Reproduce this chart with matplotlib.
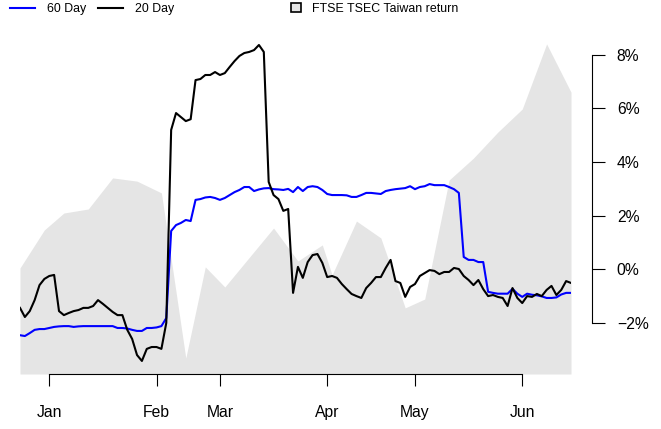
import matplotlib
matplotlib.use("Agg")
import matplotlib.pyplot as plt
from matplotlib.lines import Line2D
from matplotlib.patches import Patch

plt.rcParams['font.family'] = ['Liberation Sans', 'DejaVu Sans']

# trading-day index of each month start, and labels
month_days = [6, 28, 41, 63, 81, 103]
month_labels = ['Jan', 'Feb', 'Mar', 'Apr', 'May', 'Jun']

# rolling series, one value per trading day (in %)
day20 = [-1.44, -1.78, -1.56, -1.15, -0.59, -0.36, -0.25, -0.21, -1.56, -1.71,
         -1.63, -1.56, -1.52, -1.44, -1.44, -1.37, -1.15, -1.29, -1.44, -1.59,
         -1.71, -1.71, -2.26, -2.60, -3.20, -3.42, -2.97, -2.90, -2.90, -2.97,
         -2.00, 5.20, 5.83, 5.68, 5.53, 5.60, 7.06, 7.10, 7.25, 7.25,
         7.36, 7.25, 7.32, 7.55, 7.77, 7.96, 8.07, 8.11, 8.18, 8.37,
         8.11, 3.26, 2.77, 2.62, 2.18, 2.25, -0.88, 0.09, -0.32, 0.27,
         0.53, 0.57, 0.24, -0.29, -0.25, -0.32, -0.55, -0.74, -0.92, -1.00,
         -1.07, -0.70, -0.51, -0.29, -0.29, 0.05, 0.35, -0.44, -0.51, -1.03,
         -0.66, -0.55, -0.25, -0.14, -0.03, -0.06, -0.18, -0.10, -0.10, 0.05,
         0.01, -0.25, -0.40, -0.59, -0.40, -0.74, -1.00, -0.96, -1.03, -1.07,
         -1.37, -0.70, -1.07, -1.26, -1.00, -1.03, -0.92, -1.00, -0.77, -0.62,
         -0.96, -0.77, -0.44, -0.51]

day60 = [-2.46, -2.49, -2.38, -2.26, -2.23, -2.23, -2.19, -2.15, -2.13, -2.12,
         -2.12, -2.15, -2.13, -2.12, -2.12, -2.12, -2.12, -2.12, -2.12, -2.12,
         -2.19, -2.19, -2.21, -2.26, -2.30, -2.30, -2.19, -2.19, -2.17, -2.12,
         -1.82, 1.43, 1.65, 1.73, 1.84, 1.80, 2.59, 2.62, 2.68, 2.70,
         2.66, 2.59, 2.66, 2.77, 2.88, 2.96, 3.07, 3.07, 2.92, 2.98,
         3.02, 3.03, 2.99, 2.98, 2.96, 3.00, 2.88, 3.07, 2.92, 3.07,
         3.10, 3.07, 2.96, 2.81, 2.77, 2.77, 2.77, 2.76, 2.70, 2.70,
         2.77, 2.85, 2.85, 2.83, 2.81, 2.92, 2.96, 2.99, 3.01, 3.03,
         3.10, 2.99, 3.07, 3.10, 3.18, 3.14, 3.14, 3.14, 3.07, 2.99,
         2.85, 0.46, 0.35, 0.35, 0.27, 0.27, -0.84, -0.88, -0.91, -0.91,
         -0.91, -0.73, -0.91, -1.03, -0.91, -0.95, -0.97, -1.01, -1.07, -1.07,
         -1.05, -0.94, -0.88, -0.88]

# weekly index return (background area)
ftse_day = [0, 5, 9, 14, 19, 24, 29, 34, 38, 42, 52, 57, 62, 64, 69, 74, 79,
            83, 88, 93, 98, 103, 108, 113]
ftse_ret = [0.05, 1.47, 2.10, 2.25, 3.41, 3.29, 2.85, -3.31, 0.09, -0.66,
            1.54, 0.31, 0.91, -0.21, 1.80, 1.17, -1.44, -1.11, 3.33, 4.15,
            5.12, 5.98, 8.41, 6.61]

yticks = [-2, 0, 2, 4, 6, 8]

days = list(range(len(day20)))
ybot, ytop = -3.907, 8.705

fig = plt.figure(figsize=(6.61, 4.29), dpi=100)
ax = fig.add_axes([20 / 661, 55 / 429, 551 / 661, 338 / 429])

ax.fill_between(ftse_day, ybot, ftse_ret, color='#e5e5e5', lw=0, zorder=1)
ax.plot(days, day60, color='#0000ff', lw=1.5, zorder=2)
ax.plot(days, day20, color='black', lw=1.5, zorder=3)

ax.set_xlim(0, len(day20) - 1)
ax.set_ylim(ybot, ytop)

for s in ['left', 'top']:
    ax.spines[s].set_visible(False)
ax.spines['bottom'].set_bounds(month_days[0], month_days[-1])
ax.spines['right'].set_position(('outward', 15.1))
ax.spines['right'].set_bounds(yticks[0], yticks[-1])
for s in ['bottom', 'right']:
    ax.spines[s].set_linewidth(0.8)

ax.set_xticks(month_days)
ax.set_xticklabels(month_labels)
ax.yaxis.tick_right()
ax.set_yticks(yticks)
ax.set_yticklabels([f"{v}%".replace('-', '\u2212') for v in yticks])
ax.tick_params(axis='x', length=8.6, width=0.8, pad=13.5, labelsize=11.3)
ax.tick_params(axis='y', length=9.4, width=0.8, pad=8.5, labelsize=11.3)

leg1 = fig.legend(handles=[Line2D([], [], color='#0000ff', lw=1.5),
                           Line2D([], [], color='black', lw=1.5)],
                  labels=['60 Day', '20 Day'], ncol=2, frameon=False,
                  loc='center left', bbox_to_anchor=(10 / 661, 1 - 9 / 429),
                  borderpad=0, borderaxespad=0, handlelength=2.0,
                  handletextpad=0.97, columnspacing=0.97, fontsize=8.9)
leg2 = fig.legend(handles=[Patch(facecolor='#e5e5e5', edgecolor='black', lw=1.2)],
                  labels=['FTSE TSEC Taiwan return'], frameon=False,
                  loc='center left', bbox_to_anchor=(291 / 661, 1 - 9 / 429),
                  borderpad=0, borderaxespad=0, handlelength=0.8,
                  handleheight=0.8, handletextpad=0.9, fontsize=8.9)

fig.savefig('out.png', dpi=100)
